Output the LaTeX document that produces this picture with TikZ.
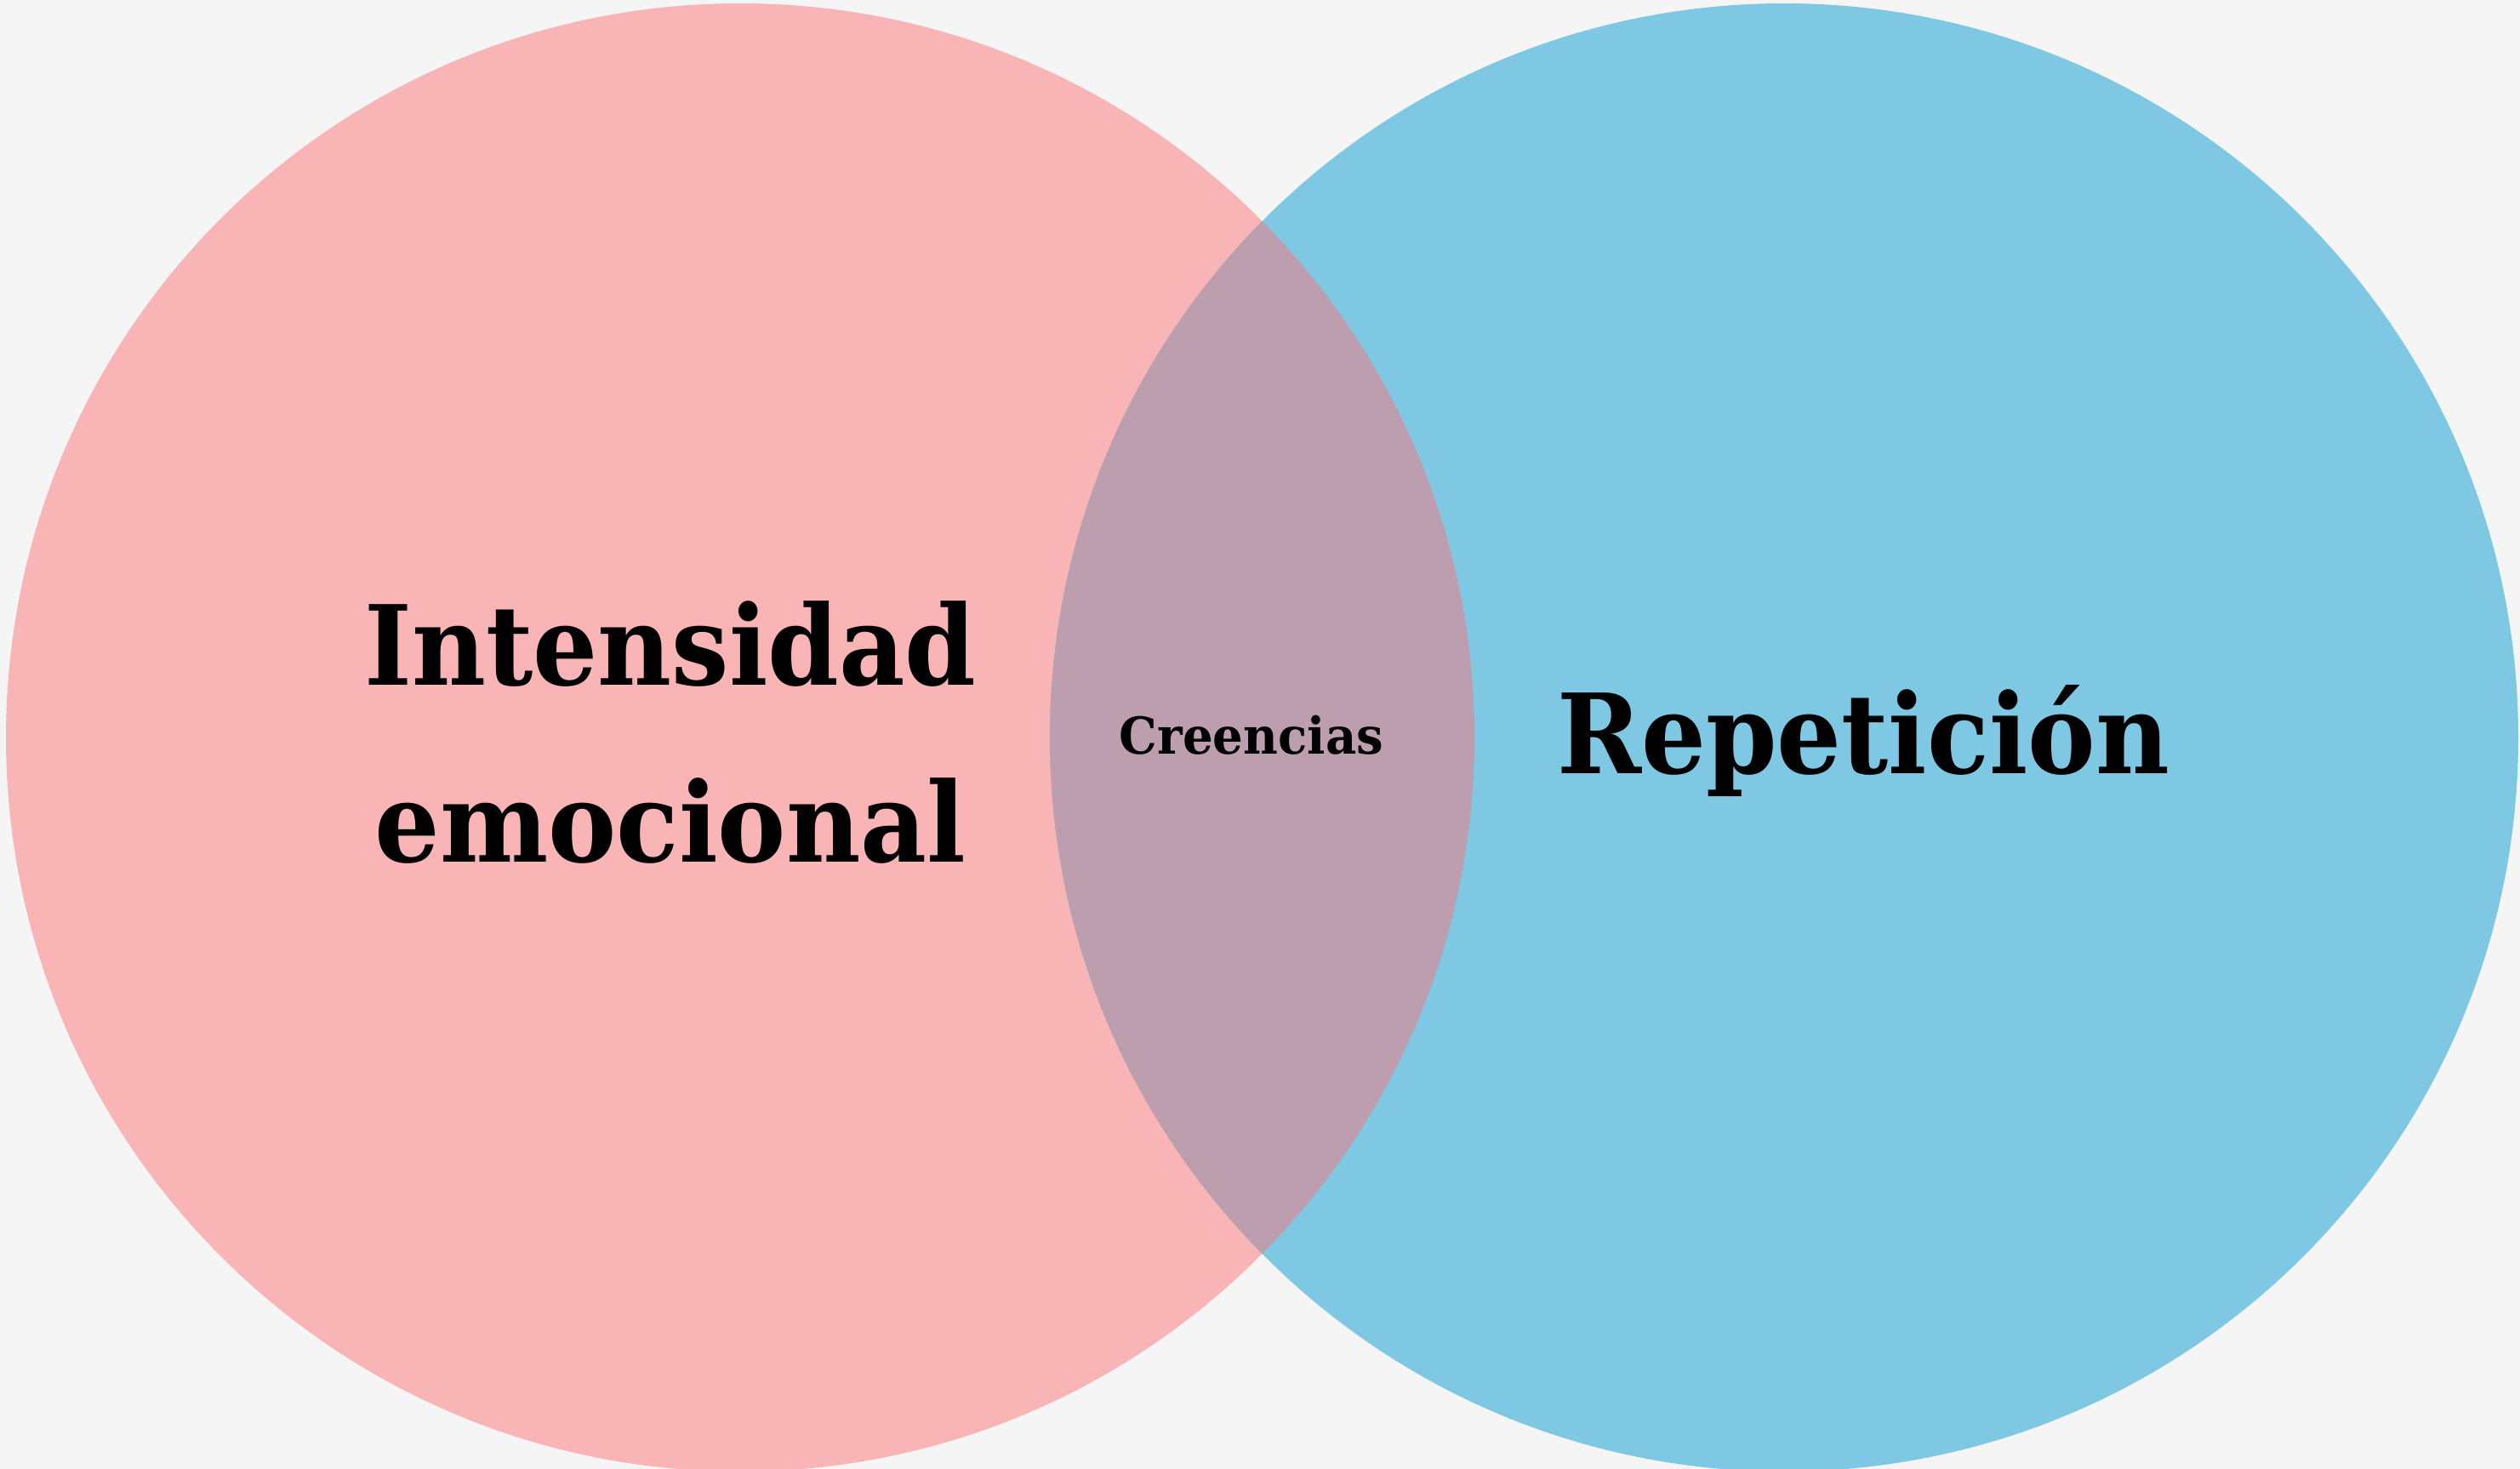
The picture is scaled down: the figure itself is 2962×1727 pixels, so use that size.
\documentclass[tikz,border=0pt]{standalone}
\usepackage{fontspec}
\setmainfont{DejaVu Serif}
\definecolor{bgc}{HTML}{F5F5F5}
\definecolor{pinkc}{HTML}{F9B4B6}
\definecolor{bluec}{HTML}{7EC8E4}
\definecolor{overc}{HTML}{BC9EAE}
\newcommand{\narrowtxt}[2]{\scalebox{#1}[1]{#2}}
\tikzset{
  bigtxt/.style={font=\bfseries\fontsize{37}{44}\selectfont, anchor=base, inner sep=0pt, text=black},
  smalltxt/.style={font=\bfseries\fontsize{17}{20}\selectfont, anchor=base, inner sep=0pt, text=black}
}
\begin{document}
\begin{tikzpicture}[x=0.01cm,y=-0.01cm]
\fill[bgc] (0,0) rectangle (2962,1727);
\useasboundingbox (0,0) rectangle (2962,1727);
\coordinate (cl) at (870,867);
\coordinate (cr) at (2097,867);
\fill[pinkc] (cl) circle[radius=863];
\fill[bluec] (cr) circle[radius=863];
\begin{scope}
  \clip (cl) circle[radius=863];
  \fill[overc] (cr) circle[radius=863];
\end{scope}
\node[bigtxt] (t1) at (788,805) {\narrowtxt{0.92}{Intensidad}};
\node[bigtxt] (t2) at (788,1013) {\narrowtxt{0.925}{emocional}};
\node[bigtxt] (t3) at (2190,909) {\narrowtxt{0.918}{Repetición}};
\node[smalltxt] (t4) at (1471,886) {\narrowtxt{0.94}{Creencias}};
\end{tikzpicture}
\end{document}
